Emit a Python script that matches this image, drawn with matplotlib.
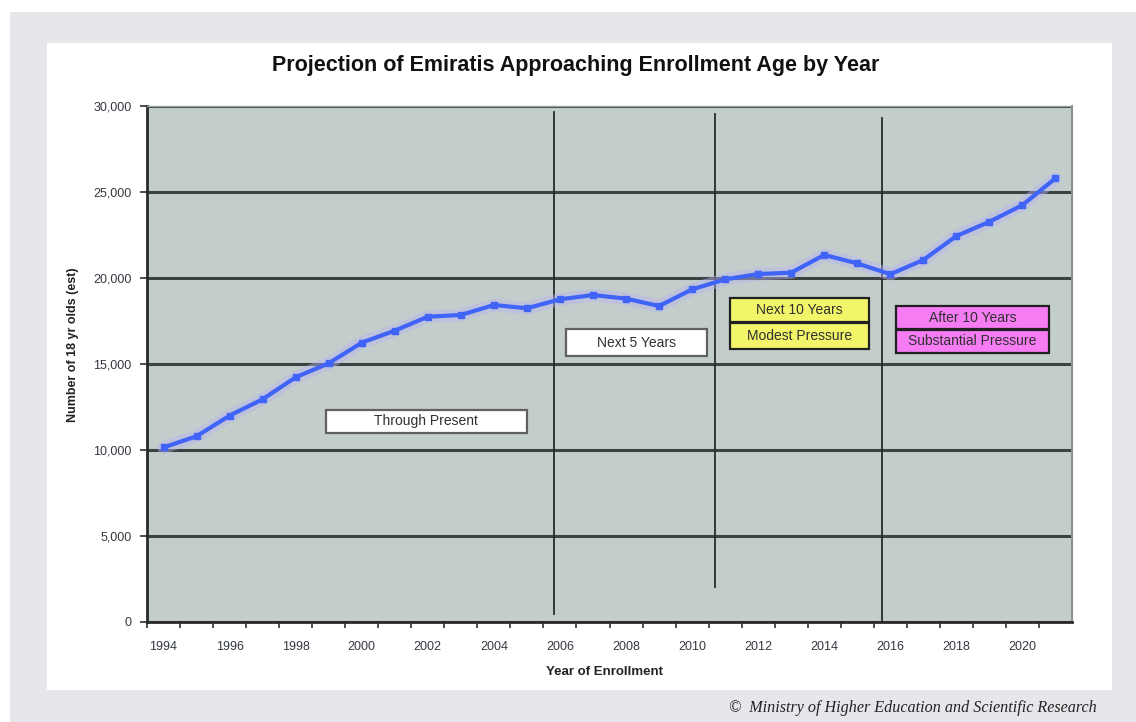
import matplotlib
matplotlib.use("Agg")
import matplotlib.pyplot as plt
from matplotlib.patches import Rectangle
from matplotlib.ticker import FixedLocator, FuncFormatter

# ---------------- data ----------------
years = list(range(1994, 2022))
enrollment = [10150, 10800, 12000, 12950, 14230, 15040, 16240, 16940, 17750, 17850,
              18430, 18240, 18760, 19010, 18800, 18370, 19340, 19920, 20230, 20310,
              21340, 20850, 20220, 21050, 22440, 23270, 24240, 25800]
year_tick_labels = [str(y) for y in range(1994, 2021, 2)]
y_ticks = [0, 5000, 10000, 15000, 20000, 25000, 30000]

title = "Projection of Emiratis Approaching Enrollment Age by Year"
x_label = "Year of Enrollment"
y_label = "Number of 18 yr olds (est)"
credit = "\u00a9  Ministry of Higher Education and Scientific Research"

# period divider lines: x, y_bottom, y_top
divider_x = [2005.82, 2010.69, 2015.75]
divider_y0 = [465, 2035, 0]
divider_y1 = [29650, 29530, 29300]

# annotation boxes: (x0, x1, y0, y1, text, facecolor, edgecolor)
box_x0 = [1998.92, 2006.18, 2011.16, 2011.16, 2016.17, 2016.17]
box_x1 = [2004.99, 2010.45, 2015.35, 2015.35, 2020.80, 2020.80]
box_y0 = [10988, 15465, 17459, 15872, 17017, 15657]
box_y1 = [12326, 17017, 18820, 17366, 18372, 16977]
box_text = ["Through Present", "Next 5 Years", "Next 10 Years", "Modest Pressure",
            "After 10 Years", "Substantial Pressure"]
box_face = ["white", "white", "#f2f56a", "#f2f56a", "#f57cf2", "#f57cf2"]
box_edge = ["#606060", "#606060", "#202020", "#202020", "#202020", "#202020"]

# ---------------- figure ----------------
W, H = 1136, 722
fig = plt.figure(figsize=(W / 100, H / 100), dpi=100)
fig.patch.set_facecolor("white")

def px_rect(x0, y0, x1, y1, **kw):
    r = Rectangle((x0 / W, 1 - y1 / H), (x1 - x0) / W, (y1 - y0) / H,
                  transform=fig.transFigure, zorder=-10, **kw)
    fig.patches.append(r)

px_rect(10, 12, 1136, 722, facecolor="#e6e7eb", edgecolor="none")
px_rect(47, 43, 1112, 690, facecolor="white", edgecolor="none")

L, R, T, B = 147, 1072, 106, 622
ax = fig.add_axes([L / W, 1 - B / H, (R - L) / W, (B - T) / H])
ax.set_facecolor("#c2cdcc")
ax.set_xlim(1993.5, 2021.5)
ax.set_ylim(0, 30000)

# gridlines
ax.yaxis.set_major_locator(FixedLocator(y_ticks))
ax.yaxis.set_major_formatter(FuncFormatter(lambda v, p: f"{int(v):,}"))
ax.grid(axis="y", color="#3c4242", linewidth=2.2, zorder=1)
ax.grid(axis="x", visible=False)

# x ticks
ax.xaxis.set_major_locator(FixedLocator(list(range(1994, 2021, 2))))
ax.set_xticklabels(year_tick_labels)
ax.xaxis.set_minor_locator(FixedLocator([y + 0.5 for y in range(1993, 2021)]))
ax.tick_params(axis="x", which="major", length=0, pad=14, labelsize=9, labelcolor="#333840")
ax.tick_params(axis="x", which="minor", length=4, width=1.2, color="#303030", direction="out")
ax.tick_params(axis="y", which="major", length=5, width=1.2, color="#303030", pad=6,
               labelsize=9, labelcolor="#333840")
for lbl in ax.get_xticklabels() + ax.get_yticklabels():
    lbl.set_family("Liberation Sans")

for s in ["left", "bottom"]:
    ax.spines[s].set_color("#2a2a2a")
    ax.spines[s].set_linewidth(2.0)
ax.spines["right"].set_color("#8a9090")
ax.spines["right"].set_linewidth(1.5)
ax.spines["top"].set_color("#9aa2a2")
ax.spines["top"].set_linewidth(1.0)

# divider lines
for x, y0, y1 in zip(divider_x, divider_y0, divider_y1):
    ax.plot([x, x], [y0, y1], color="#2a2a2a", linewidth=1.3, zorder=2)

# boxes
for x0, x1, y0, y1, t, fc, ec in zip(box_x0, box_x1, box_y0, box_y1, box_text, box_face, box_edge):
    ax.add_patch(Rectangle((x0, y0), x1 - x0, y1 - y0, facecolor=fc, edgecolor=ec,
                           linewidth=1.6, zorder=3))
    ax.text((x0 + x1) / 2, (y0 + y1) / 2, t, ha="center", va="center", fontsize=10,
            family="Liberation Sans", color="#303030", zorder=4)

# data line with glow
ax.plot(years, enrollment, color="#b7b4f0", linewidth=9, alpha=0.45, zorder=5,
        solid_capstyle="round")
ax.plot(years, enrollment, color="#3f64f7", linewidth=3.0, marker="s", markersize=5,
        markerfacecolor="#3f64f7", markeredgecolor="#3f64f7", zorder=6)

# labels
fig.text(576 / W, 1 - 66 / H, title, ha="center", va="center", fontsize=15.5,
         fontweight="bold", family="Liberation Sans", color="#111111")
fig.text(605 / W, 1 - 672 / H, x_label, ha="center", va="center", fontsize=9.5,
         fontweight="bold", family="Liberation Sans", color="#222222")
fig.text(73 / W, 1 - 345 / H, y_label, ha="center", va="center", fontsize=9,
         fontweight="bold", family="Liberation Sans", color="#222222", rotation=90)
fig.text(1097 / W, 1 - 708 / H, credit, ha="right", va="center", fontsize=11.6,
         style="italic", family="Liberation Serif", color="#222222")

fig.savefig("out.png", dpi=100)
